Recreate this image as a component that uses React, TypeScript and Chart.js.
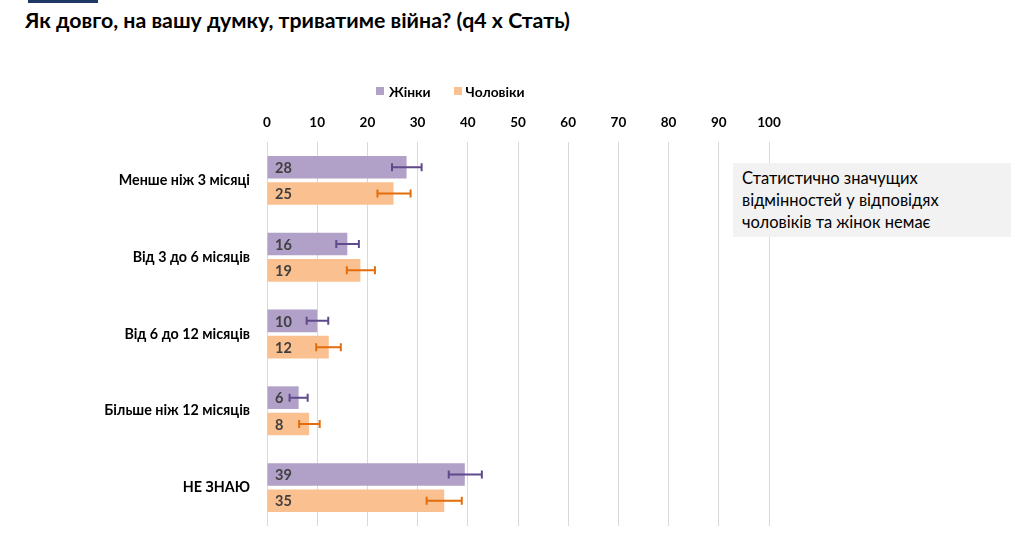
import React, { useEffect, useRef } from "react";
import { Chart, registerables } from "chart.js";

Chart.register(...registerables);

const categories = [
  "Менше ніж 3 місяці",
  "Від 3 до 6 місяців",
  "Від 6 до 12 місяців",
  "Більше ніж 12 місяців",
  "НЕ ЗНАЮ",
];
const seriesNames = ["Жінки", "Чоловіки"];
const womenValues = [27.8, 16.0, 10.0, 6.3, 39.4];
const menValues = [25.2, 18.6, 12.3, 8.4, 35.3];
const womenLabels = ["28", "16", "10", "6", "39"];
const menLabels = ["25", "19", "12", "8", "35"];
const womenLow = [24.9, 13.8, 7.9, 4.5, 36.2];
const womenHigh = [30.8, 18.3, 12.2, 8.1, 42.8];
const menLow = [22.0, 15.9, 9.8, 6.4, 31.8];
const menHigh = [28.6, 21.5, 14.7, 10.5, 38.8];
const xTicks = [0, 10, 20, 30, 40, 50, 60, 70, 80, 90, 100];

const WOMEN_COLOR = "#B1A0C7";
const MEN_COLOR = "#FAC090";
const WOMEN_ERR = "#5F4A8B";
const MEN_ERR = "#E46C0A";
const FONT = "Lato, 'Open Sans', sans-serif";

const lows = [womenLow, menLow];
const highs = [womenHigh, menHigh];
const valueLabels = [womenLabels, menLabels];
const errColors = [WOMEN_ERR, MEN_ERR];

const errorBarPlugin = {
  id: "errorBars",
  afterDatasetsDraw(chart: any) {
    const ctx = chart.ctx;
    const xs = chart.scales.x;
    chart.data.datasets.forEach((_ds: any, d: number) => {
      const meta = chart.getDatasetMeta(d);
      meta.data.forEach((bar: any, i: number) => {
        const y = bar.y;
        const x1 = xs.getPixelForValue(lows[d][i]);
        const x2 = xs.getPixelForValue(highs[d][i]);
        ctx.save();
        ctx.strokeStyle = errColors[d];
        ctx.lineWidth = 2;
        ctx.beginPath();
        ctx.moveTo(x1, y);
        ctx.lineTo(x2, y);
        ctx.moveTo(x1, y - 4);
        ctx.lineTo(x1, y + 4);
        ctx.moveTo(x2, y - 4);
        ctx.lineTo(x2, y + 4);
        ctx.stroke();
        ctx.restore();
        ctx.save();
        ctx.fillStyle = "#404040";
        ctx.font = "bold 14.5px " + FONT;
        ctx.textBaseline = "middle";
        ctx.textAlign = "left";
        ctx.fillText(valueLabels[d][i], chart.chartArea.left + 8, y + 1);
        ctx.restore();
      });
    });
  },
};

export default function App() {
  const ref = useRef<HTMLCanvasElement | null>(null);
  useEffect(() => {
    const chart = new Chart(ref.current as HTMLCanvasElement, {
      type: "bar",
      data: {
        labels: categories,
        datasets: [
          {
            label: seriesNames[0],
            data: womenValues,
            backgroundColor: WOMEN_COLOR,
            categoryPercentage: 0.685,
            barPercentage: 0.86,
          },
          {
            label: seriesNames[1],
            data: menValues,
            backgroundColor: MEN_COLOR,
            categoryPercentage: 0.685,
            barPercentage: 0.86,
          },
        ],
      },
      options: {
        indexAxis: "y",
        animation: false,
        responsive: false,
        maintainAspectRatio: false,
        layout: { padding: { left: 0, right: 255, top: 112, bottom: 13 } },
        plugins: { legend: { display: false }, tooltip: { enabled: false } },
        scales: {
          x: {
            position: "top",
            min: 0,
            max: 100,
            afterBuildTicks(scale: any) {
              scale.ticks = xTicks.map((v) => ({ value: v }));
            },
            afterFit(scale: any) {
              scale.height = 30;
              scale.paddingLeft = 0;
              scale.paddingRight = 0;
            },
            grid: { color: "#D9D9D9", drawTicks: false, lineWidth: 1 },
            border: { display: false },
            ticks: {
              color: "#000",
              padding: 11,
              font: { family: FONT, size: 13.5, weight: "bold" },
            },
          },
          y: {
            afterFit(scale: any) {
              scale.width = 267;
              scale.paddingTop = 0;
              scale.paddingBottom = 0;
            },
            grid: { display: false, drawTicks: false },
            border: { display: false },
            ticks: {
              color: "#000",
              padding: 17,
              font: { family: FONT, size: 14.3, weight: "bold" },
            },
          },
        },
      } as any,
      plugins: [errorBarPlugin],
    });
    return () => chart.destroy();
  }, []);

  return (
    <div style={{ position: "absolute", left: 0, top: 0, width: 1024, height: 539, background: "#fff", fontFamily: FONT }}>
      <div style={{ position: "absolute", left: 28, top: 0, width: 70, height: 3, background: "#203864" }} />
      <div style={{ position: "absolute", left: 25, top: 7, fontSize: 21.3, fontWeight: "bold", color: "#000", whiteSpace: "nowrap" }}>
        Як довго, на вашу думку, триватиме війна? (q4 х Стать)
      </div>
      <canvas ref={ref} width={1024} height={539} style={{ position: "absolute", left: 0, top: 0 }} />
      <div style={{ position: "absolute", left: 376, top: 82, height: 18, display: "flex", alignItems: "center", fontSize: 13.8, fontWeight: "bold", color: "#000", whiteSpace: "nowrap" }}>
        <span style={{ display: "inline-block", width: 8, height: 8, background: WOMEN_COLOR, marginRight: 5 }} />
        <span>{seriesNames[0]}</span>
        <span style={{ display: "inline-block", width: 8, height: 8, background: MEN_COLOR, marginLeft: 23, marginRight: 4 }} />
        <span>{seriesNames[1]}</span>
      </div>
      <div style={{ position: "absolute", left: 733, top: 163, width: 278, height: 74, background: "#F2F2F2", boxSizing: "border-box", padding: "4px 9px", fontSize: 16.5, lineHeight: "22px", color: "#000" }}>
        Статистично значущих<br />відмінностей у відповідях<br />чоловіків та жінок немає
      </div>
    </div>
  );
}
